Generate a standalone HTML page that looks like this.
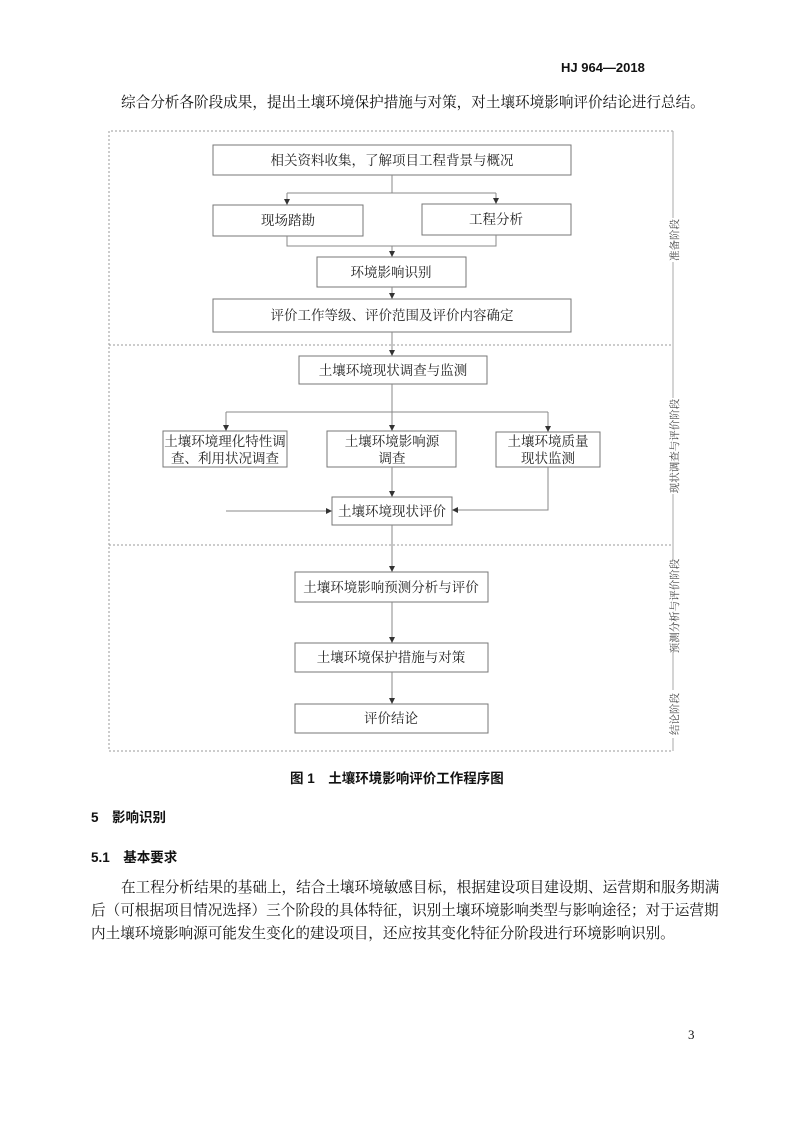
<!DOCTYPE html>
<html><head><meta charset="utf-8">
<style>
body{margin:0;background:#fff;}
#p{position:relative;width:793px;height:1122px;overflow:hidden;font-family:"Liberation Serif","Noto Serif CJK SC",serif;color:#111;}
.t{position:absolute;white-space:nowrap;font-size:14.6px;line-height:16px;}
.b{font-family:"Liberation Sans","Noto Sans CJK SC",sans-serif;font-weight:bold;font-size:13.5px;}
svg text{font-family:"Liberation Serif","Noto Serif CJK SC",serif;}
</style></head><body><div id="p">
<div class="t b" style="left:561px;top:60px;font-size:13px;">HJ 964—2018</div>
<div class="t" style="left:121px;top:95px;">综合分析各阶段成果，提出土壤环境保护措施与对策，对土壤环境影响评价结论进行总结。</div>

<svg width="793" height="1122" style="position:absolute;left:0;top:0" xmlns="http://www.w3.org/2000/svg">
<defs><marker id="a" markerWidth="6" markerHeight="6" refX="5" refY="3" orient="auto"><path d="M0,0 L6,3 L0,6z" fill="#333"/></marker></defs>
<g fill="none" stroke="#999" stroke-width="1" stroke-dasharray="2,2">
<path d="M673,131 H109 V751 H673"/>
<path d="M109,345 H673 M109,545 H673"/>
</g>
<path d="M673,131 V751" stroke="#aaa" stroke-width="1"/>
<g fill="#fff" stroke="#777" stroke-width="1">
<rect x="213" y="145" width="358" height="30"/>
<rect x="213" y="205" width="150" height="31"/>
<rect x="422" y="204" width="149" height="31"/>
<rect x="317" y="257" width="149" height="30"/>
<rect x="213" y="299" width="358" height="33"/>
<rect x="299" y="356" width="188" height="28"/>
<rect x="163" y="431" width="124" height="36"/>
<rect x="327" y="431" width="129" height="36"/>
<rect x="496" y="432" width="104" height="35"/>
<rect x="332" y="497" width="120" height="28"/>
<rect x="295" y="572" width="193" height="30"/>
<rect x="295" y="643" width="193" height="29"/>
<rect x="295" y="704" width="193" height="29"/>
</g>
<g fill="none" stroke="#888" stroke-width="1">
<path d="M392,175 V193 M287,193 H496"/>
<path d="M287,193 V204" marker-end="url(#a)"/>
<path d="M496,193 V203" marker-end="url(#a)"/>
<path d="M287,236 V246 H496 V235"/>
<path d="M392,246 V256" marker-end="url(#a)"/>
<path d="M392,287 V298" marker-end="url(#a)"/>
<path d="M392,332 V355" marker-end="url(#a)"/>
<path d="M392,384 V430" marker-end="url(#a)"/>
<path d="M226,412 H548"/>
<path d="M226,412 V430" marker-end="url(#a)"/>
<path d="M548,412 V431" marker-end="url(#a)"/>
<path d="M392,467 V496" marker-end="url(#a)"/>
<path d="M226,511 H331" marker-end="url(#a)"/>
<path d="M548,467 V510 H453" marker-end="url(#a)"/>
<path d="M392,525 V571" marker-end="url(#a)"/>
<path d="M392,602 V642" marker-end="url(#a)"/>
<path d="M392,672 V703" marker-end="url(#a)"/>
</g>
<g font-size="13.5" fill="#222" text-anchor="middle">
<text x="392" y="165">相关资料收集，了解项目工程背景与概况</text>
<text x="288" y="225">现场踏勘</text>
<text x="496" y="224">工程分析</text>
<text x="391" y="277">环境影响识别</text>
<text x="392" y="320">评价工作等级、评价范围及评价内容确定</text>
<text x="393" y="375">土壤环境现状调查与监测</text>
<text x="225" y="446">土壤环境理化特性调</text>
<text x="225" y="463">查、利用状况调查</text>
<text x="392" y="446">土壤环境影响源</text>
<text x="392" y="463">调查</text>
<text x="548" y="446">土壤环境质量</text>
<text x="548" y="463">现状监测</text>
<text x="392" y="516">土壤环境现状评价</text>
<text x="391" y="592">土壤环境影响预测分析与评价</text>
<text x="391" y="662">土壤环境保护措施与对策</text>
<text x="391" y="723">评价结论</text>
</g>
<g fill="#fff"><rect x="667" y="218" width="14" height="44"/><rect x="667" y="398" width="14" height="96"/><rect x="667" y="560" width="14" height="92"/><rect x="667" y="690" width="14" height="48"/></g>
<g font-size="10.5" fill="#444" text-anchor="middle">
<text transform="translate(678,240) rotate(-90)">准备阶段</text>
<text transform="translate(678,446) rotate(-90)">现状调查与评价阶段</text>
<text transform="translate(678,606) rotate(-90)">预测分析与评价阶段</text>
<text transform="translate(678,714) rotate(-90)">结论阶段</text>
</g>
</svg>

<div class="t b" style="left:290px;top:771px;">图 1　土壤环境影响评价工作程序图</div>
<div class="t b" style="left:91px;top:810px;">5　影响识别</div>
<div class="t b" style="left:91px;top:850px;">5.1　基本要求</div>
<div class="t" style="left:121px;top:880px;">在工程分析结果的基础上，结合土壤环境敏感目标，根据建设项目建设期、运营期和服务期满</div>
<div class="t" style="left:91px;top:903px;">后（可根据项目情况选择）三个阶段的具体特征，识别土壤环境影响类型与影响途径；对于运营期</div>
<div class="t" style="left:91px;top:926px;">内土壤环境影响源可能发生变化的建设项目，还应按其变化特征分阶段进行环境影响识别。</div>
<div class="t" style="left:688px;top:1027px;font-size:13px;">3</div>
</div></body></html>
